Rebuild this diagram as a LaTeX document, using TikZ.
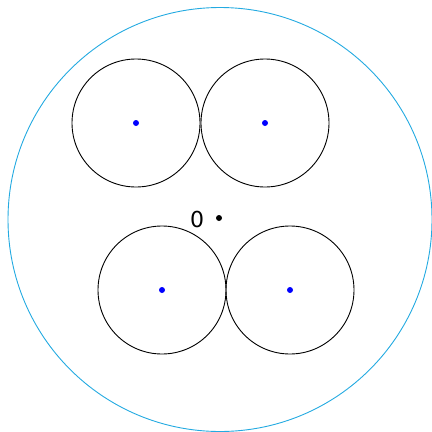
\documentclass[tikz,border=0pt]{standalone}
\usepackage{fontspec}
\setmainfont{DejaVu Sans}
\definecolor{cyanline}{RGB}{35,170,225}
\begin{document}
\begin{tikzpicture}[x=1pt,y=-1pt,
  disc/.style={draw=black,line width=0.9pt},
  ctr/.style={circle,fill=blue,inner sep=0pt,minimum size=6pt},
  origin/.style={circle,fill=black,inner sep=0pt,minimum size=6pt}]
\useasboundingbox (0,0) rectangle (432,432);
\draw[cyanline,line width=0.9pt] (220,219.5) circle (212);
\draw[disc] (136,123) circle (64);
\draw[disc] (265,123) circle (64);
\draw[disc] (162,290) circle (64);
\draw[disc] (290,290) circle (64);
\node[ctr] (c1) at (136,123) {};
\node[ctr] (c2) at (265,123) {};
\node[ctr] (c3) at (162,290) {};
\node[ctr] (c4) at (290,290) {};
\node[origin] (o) at (219,218) {};
\node[font=\fontsize{22}{24}\selectfont,anchor=center] (lbl) at (197,219) {0};
\end{tikzpicture}
\end{document}
